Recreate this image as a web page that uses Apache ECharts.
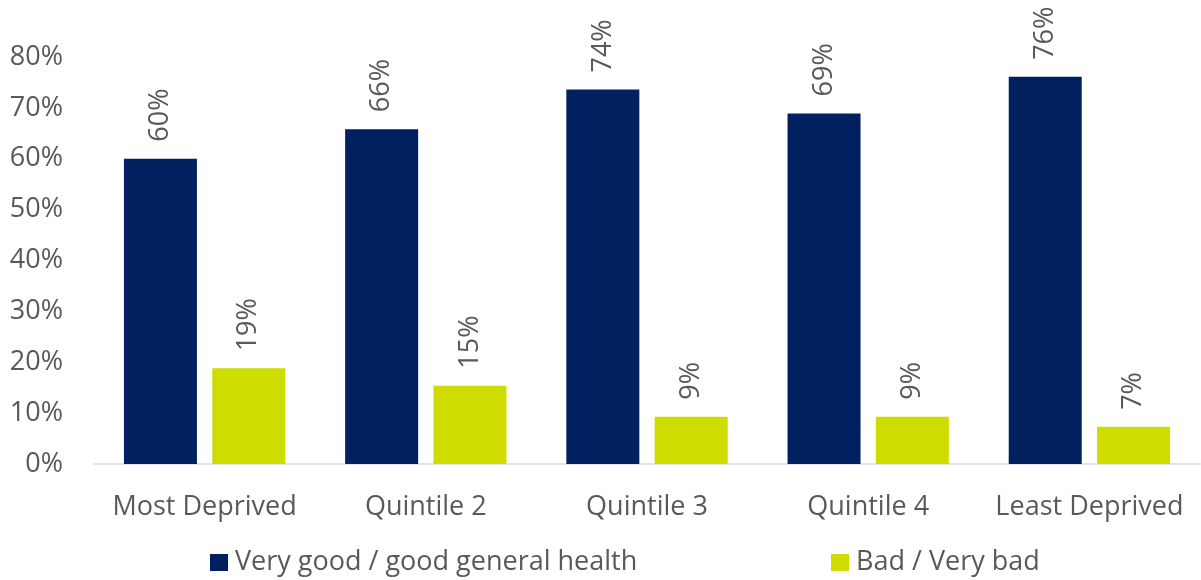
<!DOCTYPE html>
<html>
<head>
<meta charset="utf-8">
<script src="https://cdn.jsdelivr.net/npm/echarts@6/dist/echarts.min.js"></script>
<style>html,body{margin:0;padding:0;background:#fff}#c{width:1201px;height:580px}</style>
</head>
<body>
<div id="c"></div>
<script>
const categories = ['Most Deprived', 'Quintile 2', 'Quintile 3', 'Quintile 4', 'Least Deprived'];
const goodHealth = [60.0, 65.8, 73.6, 68.9, 76.1];
const badHealth = [18.8, 15.4, 9.3, 9.3, 7.3];
const seriesNames = ['Very good / good general health', 'Bad / Very bad'];
const yTicks = [0, 10, 20, 30, 40, 50, 60, 70, 80];

const font = 'Open Sans';
const txt = '#595959';
const fs = 27;
const chart = echarts.init(document.getElementById('c'));
const lbl = {
  show: true, position: 'top', rotate: 90, align: 'left', verticalAlign: 'middle',
  distance: 17, color: txt, fontFamily: font, fontSize: fs,
  formatter: p => Math.round(p.value) + '%'
};
const legendBase = {
  top: 544, itemWidth: 18, itemHeight: 17, icon: 'rect',
  textStyle: { color: txt, fontFamily: font, fontSize: fs, padding: [0, 0, 0, 2] }
};
chart.setOption({
  animation: false,
  grid: { left: 94, right: 1, top: 57, bottom: 116 },
  legend: [
    Object.assign({ left: 205, data: [seriesNames[0]] }, legendBase),
    Object.assign({ left: 826, data: [seriesNames[1]] }, legendBase)
  ],
  xAxis: {
    type: 'category', data: categories,
    axisLine: { lineStyle: { color: '#D9D9D9', width: 1.5 } },
    axisTick: { show: false },
    axisLabel: { color: txt, fontFamily: font, fontSize: fs, margin: 30, interval: 0 }
  },
  yAxis: {
    type: 'value', min: yTicks[0], max: yTicks[yTicks.length - 1], interval: 10,
    splitLine: { show: false }, axisLine: { show: false }, axisTick: { show: false },
    axisLabel: { color: txt, fontFamily: font, fontSize: fs, margin: 31, formatter: v => v + '%' }
  },
  series: [
    { name: seriesNames[0], type: 'bar', data: goodHealth, barWidth: 73, barGap: '21%',
      itemStyle: { color: '#002060' }, label: lbl },
    { name: seriesNames[1], type: 'bar', data: badHealth, barWidth: 73,
      itemStyle: { color: '#CEDC00' }, label: lbl }
  ]
});
</script>
</body>
</html>
